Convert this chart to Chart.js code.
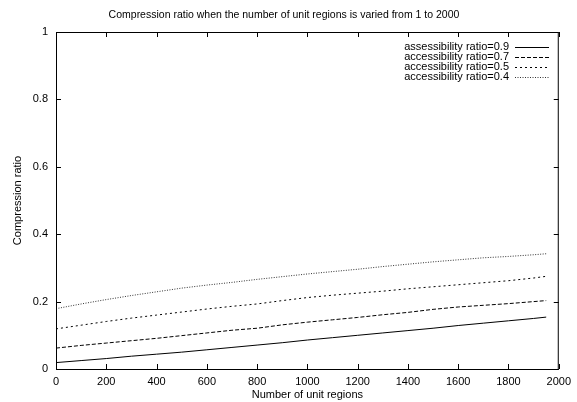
<!DOCTYPE html>
<html>
<head>
<meta charset="utf-8">
<script src="https://cdn.jsdelivr.net/npm/chart.js@4.4.1/dist/chart.umd.min.js"></script>
<style>
  body { margin: 0; background: #fff; }
  canvas { display: block; }
</style>
</head>
<body>
<canvas id="ratioChart" width="577" height="402"></canvas>
<script>
// number of unit regions (x)
const regions = [0, 100, 200, 300, 400, 500, 600, 700, 800, 900, 1000,
  1100, 1200, 1300, 1400, 1500, 1600, 1700, 1800, 1900, 1950];

// compression ratio per accessibility ratio
const ratio09 = [0.019, 0.025, 0.031, 0.038, 0.044, 0.050, 0.057, 0.064, 0.071, 0.078, 0.086,
  0.093, 0.100, 0.107, 0.114, 0.121, 0.129, 0.136, 0.143, 0.150, 0.154];
const ratio07 = [0.062, 0.070, 0.077, 0.084, 0.091, 0.099, 0.107, 0.115, 0.121, 0.131, 0.139,
  0.146, 0.153, 0.161, 0.168, 0.177, 0.184, 0.189, 0.194, 0.200, 0.203];
const ratio05 = [0.119, 0.130, 0.141, 0.151, 0.160, 0.169, 0.178, 0.186, 0.193, 0.203, 0.212,
  0.219, 0.225, 0.231, 0.238, 0.244, 0.250, 0.256, 0.262, 0.270, 0.275];
const ratio04 = [0.179, 0.193, 0.206, 0.218, 0.229, 0.240, 0.249, 0.257, 0.266, 0.274, 0.282,
  0.289, 0.296, 0.304, 0.311, 0.318, 0.324, 0.330, 0.334, 0.339, 0.342];

const seriesLabels = ["assessibility ratio=0.9", "accessibility ratio=0.7",
  "accessibility ratio=0.5", "accessibility ratio=0.4"];
const xTicks = [0, 200, 400, 600, 800, 1000, 1200, 1400, 1600, 1800, 2000];
const yTicks = [0, 0.2, 0.4, 0.6, 0.8, 1];

const FONT = "'Liberation Sans', Arial, Helvetica, sans-serif";
Chart.defaults.font.family = FONT;
Chart.defaults.color = "#000";

function pts(ys) {
  return regions.map((x, i) => ({ x: x, y: ys[i] }));
}

const dashes = [[], [4, 2], [2, 3], [1, 1.5]];
const colours = ["#000", "#000", "#000", "#333"];
const allSeries = [ratio09, ratio07, ratio05, ratio04];

// gnuplot-ish frame, inward ticks, title and legend
const gnuplotLook = {
  id: "gnuplotLook",
  afterDraw(chart) {
    const ctx = chart.ctx;
    const a = chart.chartArea;
    const xs = chart.scales.x, ys = chart.scales.y;
    ctx.save();
    ctx.strokeStyle = "#000";
    ctx.lineWidth = 1;
    ctx.setLineDash([]);
    ctx.strokeRect(a.left + 0.5, a.top + 0.5, a.right - a.left - 1, a.bottom - a.top);
    ctx.beginPath();
    xTicks.forEach(v => {
      const px = Math.round(xs.getPixelForValue(v)) + 0.5;
      ctx.moveTo(px, a.bottom); ctx.lineTo(px, a.bottom - 5);
      ctx.moveTo(px, a.top); ctx.lineTo(px, a.top + 5);
    });
    yTicks.forEach(v => {
      const py = Math.round(ys.getPixelForValue(v)) + 0.5;
      ctx.moveTo(a.left, py); ctx.lineTo(a.left + 5, py);
      ctx.moveTo(a.right, py); ctx.lineTo(a.right - 5, py);
    });
    ctx.stroke();

    // title
    ctx.fillStyle = "#000";
    ctx.font = "10.5px " + FONT;
    ctx.textAlign = "center";
    ctx.textBaseline = "middle";
    ctx.fillText("Compression ratio when the number of unit regions is varied from 1 to 2000", 284, 15);

    // legend, text right aligned then line sample
    ctx.font = "11px " + FONT;
    ctx.textAlign = "right";
    seriesLabels.forEach((lab, i) => {
      const y = 47 + i * 10;
      ctx.fillText(lab, 509, y);
      ctx.beginPath();
      ctx.strokeStyle = colours[i];
      ctx.setLineDash(dashes[i]);
      ctx.moveTo(515, y + 0.5); ctx.lineTo(549, y + 0.5);
      ctx.stroke();
    });
    ctx.restore();
  }
};

new Chart(document.getElementById("ratioChart"), {
  type: "line",
  data: {
    datasets: allSeries.map((s, i) => ({
      label: seriesLabels[i],
      data: pts(s),
      borderColor: colours[i],
      borderWidth: 1,
      borderDash: dashes[i],
      pointRadius: 0,
      tension: 0,
      fill: false
    }))
  },
  options: {
    responsive: false,
    animation: false,
    events: [],
    layout: { padding: { left: 0, right: 14, top: 32, bottom: 0 } },
    plugins: { legend: { display: false }, title: { display: false }, tooltip: { enabled: false } },
    scales: {
      x: {
        type: "linear",
        min: 0, max: 2000,
        afterFit(s) { s.height = 33; },
        afterBuildTicks(s) { s.ticks = xTicks.map(v => ({ value: v })); },
        grid: { display: false, drawTicks: false },
        border: { display: false },
        ticks: { font: { size: 11 }, padding: 6, maxRotation: 0, callback: v => String(v) },
        title: { display: true, text: "Number of unit regions", font: { size: 11 }, padding: { top: 0, bottom: 0 } }
      },
      y: {
        min: 0, max: 1,
        afterFit(s) { s.width = 56; },
        afterBuildTicks(s) { s.ticks = yTicks.map(v => ({ value: v })); },
        grid: { display: false, drawTicks: false },
        border: { display: false },
        ticks: { font: { size: 11 }, padding: 8, callback: v => String(v) },
        title: { display: true, text: "Compression ratio", font: { size: 11 }, padding: { top: 11, bottom: 0 } }
      }
    }
  },
  plugins: [gnuplotLook]
});
</script>
</body>
</html>
